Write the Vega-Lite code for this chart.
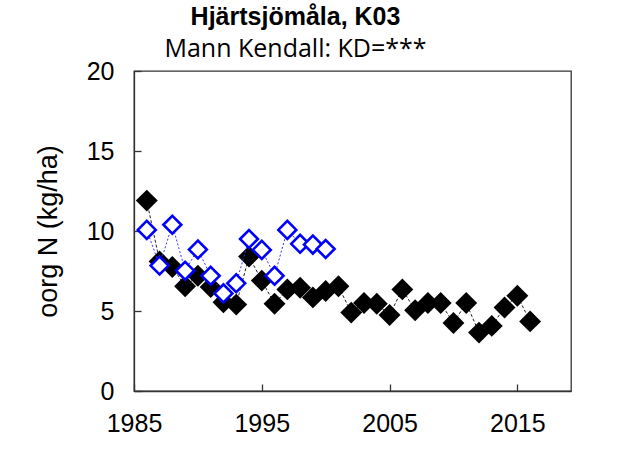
{
  "$schema": "https://vega.github.io/schema/vega-lite/v6.json",
  "width": 437,
  "height": 320,
  "autosize": "none",
  "padding": {"left": 134, "top": 71, "right": 68, "bottom": 71},
  "background": "white",
  "title": {
    "text": "Hjärtsjömåla, K03",
    "subtitle": "Mann Kendall: KD=***",
    "anchor": "middle",
    "dx": -57,
    "font": "Liberation Sans",
    "fontSize": 25,
    "fontWeight": "bold",
    "color": "black",
    "subtitleFont": "Open Sans",
    "subtitleFontSize": 25,
    "subtitleColor": "black",
    "subtitlePadding": 7,
    "offset": -3
  },
  "config": {
    "view": {"stroke": "#333333", "strokeWidth": 1.3},
    "axis": {
      "grid": false,
      "labelFont": "Liberation Sans",
      "labelFontSize": 25,
      "labelColor": "black",
      "domainColor": "#333333",
      "domainWidth": 1.3,
      "tickColor": "#333333",
      "tickWidth": 1.3,
      "titleFont": "Liberation Sans",
      "titleFontSize": 27,
      "titleFontWeight": "normal",
      "titleColor": "black"
    }
  },
  "datasets": {
    "obs": [
      {"year": 1986, "value": 11.9}, {"year": 1987, "value": 8.1}, {"year": 1988, "value": 7.75},
      {"year": 1989, "value": 6.55}, {"year": 1990, "value": 7.2}, {"year": 1991, "value": 6.5},
      {"year": 1992, "value": 5.55}, {"year": 1993, "value": 5.4}, {"year": 1994, "value": 8.4},
      {"year": 1995, "value": 6.9}, {"year": 1996, "value": 5.45}, {"year": 1997, "value": 6.35},
      {"year": 1998, "value": 6.45}, {"year": 1999, "value": 5.85}, {"year": 2000, "value": 6.25},
      {"year": 2001, "value": 6.55}, {"year": 2002, "value": 4.9}, {"year": 2003, "value": 5.5},
      {"year": 2004, "value": 5.45}, {"year": 2005, "value": 4.75}, {"year": 2006, "value": 6.35},
      {"year": 2007, "value": 5.05}, {"year": 2008, "value": 5.5}, {"year": 2009, "value": 5.5},
      {"year": 2010, "value": 4.25}, {"year": 2011, "value": 5.5}, {"year": 2012, "value": 3.65},
      {"year": 2013, "value": 4.07}, {"year": 2014, "value": 5.22}, {"year": 2015, "value": 5.95},
      {"year": 2016, "value": 4.35}
    ],
    "model": [
      {"year": 1986, "value": 10.07}, {"year": 1987, "value": 7.84}, {"year": 1988, "value": 10.39},
      {"year": 1989, "value": 7.52}, {"year": 1990, "value": 8.84}, {"year": 1991, "value": 7.2},
      {"year": 1992, "value": 6.1}, {"year": 1993, "value": 6.73}, {"year": 1994, "value": 9.5},
      {"year": 1995, "value": 8.82}, {"year": 1996, "value": 7.2}, {"year": 1997, "value": 10.07},
      {"year": 1998, "value": 9.2}, {"year": 1999, "value": 9.15}, {"year": 2000, "value": 8.88}
    ]
  },
  "encoding": {
    "x": {
      "field": "year",
      "type": "quantitative",
      "scale": {"domain": [1985, 2019.2], "nice": false, "zero": false},
      "axis": {
        "title": null,
        "values": [1985, 1995, 2005, 2015],
        "format": "d",
        "tickSize": -7,
        "labelPadding": 27,
        "labelFlush": false
      }
    },
    "y": {
      "field": "value",
      "type": "quantitative",
      "scale": {"domain": [0, 20], "nice": false},
      "axis": {
        "title": "oorg N (kg/ha)",
        "values": [0, 5, 10, 15, 20],
        "tickSize": -7,
        "labelPadding": 27,
        "titleX": -86,
        "titleY": 160,
        "titleAngle": -90,
        "titleAlign": "center",
        "titleBaseline": "middle"
      }
    }
  },
  "layer": [
    {
      "data": {"name": "obs"},
      "mark": {"type": "line", "color": "#222222", "strokeWidth": 1, "strokeDash": [3, 2]}
    },
    {
      "data": {"name": "obs"},
      "mark": {"type": "point", "shape": "diamond", "filled": true, "color": "black", "size": 480, "opacity": 1}
    },
    {
      "data": {"name": "model"},
      "mark": {"type": "line", "color": "#3333ff", "strokeWidth": 1, "strokeDash": [2, 2]}
    },
    {
      "data": {"name": "model"},
      "mark": {"type": "point", "shape": "diamond", "filled": false, "fill": "white", "fillOpacity": 1, "stroke": "#0000ff", "strokeWidth": 2.6, "size": 320, "opacity": 1}
    }
  ]
}
